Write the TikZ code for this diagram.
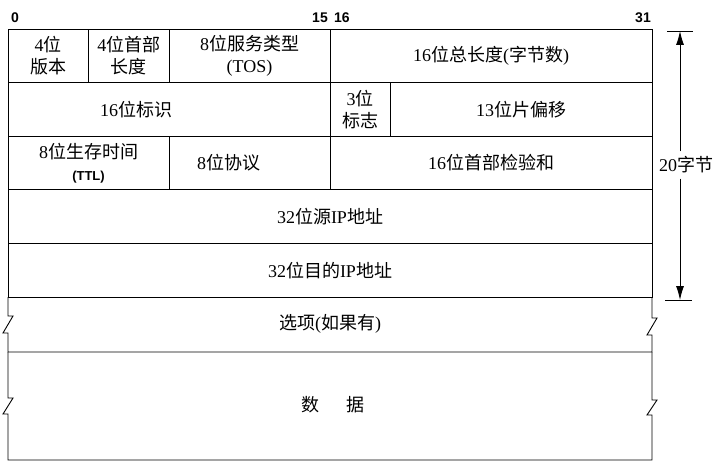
\documentclass[tikz,border=0pt]{standalone}
\usepackage{fontspec}
\setmainfont{Liberation Serif}
\setsansfont{Liberation Sans}
\newfontfamily\cjk{Noto Sans CJK SC}
\newcommand{\zh}[1]{{\cjk #1}}
\usetikzlibrary{arrows.meta,positioning}

\tikzset{
  field/.style={draw, line width=0.9pt, anchor=north west, inner sep=0pt, outer sep=0pt,
                minimum height=53.6pt, align=center, font=\fontsize{18}{22}\selectfont},
  txt/.style={inner sep=0pt, align=center, font=\fontsize{18}{22}\selectfont},
  bitnum/.style={inner sep=0pt, font=\sffamily\bfseries\fontsize{14}{14}\selectfont},
  edge/.style={line width=0.9pt},
}

\begin{document}
\begin{tikzpicture}[x=1pt,y=-1pt,>={Latex[length=14pt,width=8pt]}]
\useasboundingbox (0,0) rectangle (717,468);
% fixed header, 5 rows of 32 bits
\node[field, minimum width=80.5pt]   (ver)   at (8,29)      {4\zh{位}\\\zh{版本}};
\node[field, minimum width=80.5pt]   (ihl)   at (88.5,29)   {4\zh{位首部}\\\zh{长度}};
\node[field, minimum width=161pt]    (tos)   at (169,29)    {8\zh{位服务类型}\\(TOS)};
\node[field, minimum width=322pt]    (len)   at (330,29)    {16\zh{位总长度}(\zh{字节数})};
\node[field, minimum width=322pt]    (ident) at (8,82.6)    {};
\node[field, minimum width=60.4pt]   (flags) at (330,82.6)  {3\zh{位}\\\zh{标志}};
\node[field, minimum width=261.6pt]  (frag)  at (390.4,82.6) {13\zh{位片偏移}};
\node[field, minimum width=161pt]    (ttl)   at (8,136.2)   {8\zh{位生存时间}\\{\sffamily\bfseries\fontsize{13}{13}\selectfont (TTL)}};
\node[field, minimum width=161pt]    (proto) at (169,136.2) {};
\node[field, minimum width=322pt]    (csum)  at (330,136.2) {16\zh{位首部检验和}};
\node[field, minimum width=644pt]    (src)   at (8,189.8)   {32\zh{位源}IP\zh{地址}};
\node[field, minimum width=644pt]    (dst)   at (8,243.4)   {32\zh{位目的}IP\zh{地址}};
\node[txt] (ident-t) at ([xshift=-33pt]ident.center) {16\zh{位标识}};
\node[txt] (proto-t) at ([xshift=-21pt]proto.center) {8\zh{位协议}};

% bit numbers
\node[bitnum, anchor=south west] (b0)  at ([xshift=3pt,yshift=6pt]ver.north west) {0};
\node[bitnum, anchor=south east] (b15) at ([xshift=-2pt,yshift=6pt]len.north west) {15};
\node[bitnum, anchor=south west] (b16) at ([xshift=4pt,yshift=6pt]len.north west) {16};
\node[bitnum, anchor=south east] (b31) at ([xshift=-1pt,yshift=6pt]len.north east) {31};

% options and data, broken sides
\coordinate (optl) at (8,352);
\coordinate (optr) at (652,352);
\coordinate (datl) at (8,460);
\coordinate (datr) at (652,460);
\draw[edge] (dst.south west) -- ++(0,19) -- ++(5,0) -- ++(-10,17) -- ++(5,0) -- (optl)
  -- (optr) -- ++(0,-17) -- ++(-5,0) -- ++(10,-17) -- ++(-5,0) -- (dst.south east);
\draw[edge] (optl) -- ++(0,46) -- ++(5,0) -- ++(-10,16) -- ++(5,0) -- (datl)
  -- (datr) -- ++(0,-45) -- ++(-5,0) -- ++(10,-15) -- ++(-5,0) -- (optr);
\node[txt] (opt)  at (330,324) {\zh{选项}(\zh{如果有})};
\node[txt] (data) at (333,405) {\zh{数}\hspace{28pt}\zh{据}};

% header length
\coordinate (top) at (680,31);
\coordinate (bot) at (680,300);
\node[txt, fill=white, inner sep=5pt] (bytes) at (686,165) {20\zh{字节}};
\draw[edge] ([xshift=-13pt]top) -- ([xshift=13pt]top);
\draw[edge] ([xshift=-15pt]bot) -- ([xshift=12pt]bot);
\draw[edge,->] (bytes.north -| top) -- (top);
\draw[edge,->] (bytes.south -| bot) -- (bot);
\end{tikzpicture}
\end{document}
